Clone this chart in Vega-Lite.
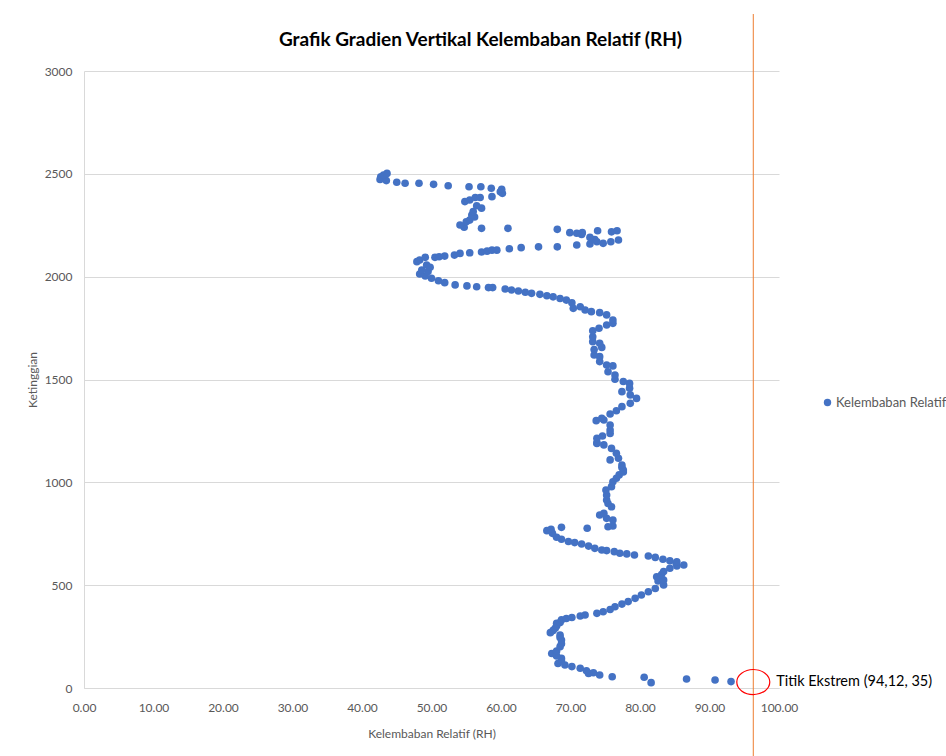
{
  "$schema": "https://vega.github.io/schema/vega-lite/v6.json",
  "autosize": {"type": "none"},
  "width": 695,
  "height": 617,
  "padding": {"left": 84, "top": 71, "right": 167, "bottom": 68},
  "background": "white",
  "title": {
    "text": "Grafik Gradien Vertikal Kelembaban Relatif (RH)",
    "font": "Lato",
    "fontSize": 19,
    "fontWeight": "bold",
    "color": "#000000",
    "anchor": "middle",
    "dx": 49,
    "offset": -36
  },
  "config": {
    "view": {"stroke": null},
    "font": "Lato",
    "axis": {
      "labelFont": "Lato",
      "titleFont": "Lato",
      "labelColor": "#595959",
      "titleColor": "#595959",
      "labelFontSize": 12,
      "titleFontSize": 12,
      "titleFontWeight": "normal",
      "gridColor": "#d9d9d9",
      "domainColor": "#d9d9d9",
      "ticks": false,
      "labelFlush": false
    }
  },
  "layer": [
    {
      "data": {"values": [
        {"rh": 93.1, "h": 31}, {"rh": 90.8, "h": 39}, {"rh": 86.7, "h": 44}, {"rh": 81.6, "h": 26}, {"rh": 80.6, "h": 52},
        {"rh": 76.0, "h": 55}, {"rh": 74.2, "h": 63}, {"rh": 73.3, "h": 74}, {"rh": 72.6, "h": 71}, {"rh": 72.3, "h": 84},
        {"rh": 71.4, "h": 96}, {"rh": 70.2, "h": 104}, {"rh": 69.2, "h": 112}, {"rh": 68.2, "h": 119}, {"rh": 68.7, "h": 132},
        {"rh": 68.7, "h": 144}, {"rh": 68.0, "h": 156}, {"rh": 67.3, "h": 168}, {"rh": 68.0, "h": 180}, {"rh": 68.5, "h": 201},
        {"rh": 68.7, "h": 215}, {"rh": 68.7, "h": 233}, {"rh": 68.5, "h": 246}, {"rh": 68.5, "h": 258}, {"rh": 67.1, "h": 269},
        {"rh": 67.5, "h": 280}, {"rh": 67.8, "h": 290}, {"rh": 68.0, "h": 302}, {"rh": 68.0, "h": 314}, {"rh": 68.5, "h": 318},
        {"rh": 68.7, "h": 331}, {"rh": 69.4, "h": 338}, {"rh": 70.2, "h": 343}, {"rh": 71.4, "h": 350}, {"rh": 72.1, "h": 355},
        {"rh": 73.8, "h": 363}, {"rh": 74.7, "h": 371}, {"rh": 75.7, "h": 382}, {"rh": 76.4, "h": 395}, {"rh": 77.4, "h": 408},
        {"rh": 78.3, "h": 420}, {"rh": 79.3, "h": 436}, {"rh": 80.2, "h": 452}, {"rh": 81.2, "h": 468}, {"rh": 82.2, "h": 484},
        {"rh": 83.4, "h": 501}, {"rh": 82.6, "h": 520}, {"rh": 83.4, "h": 525}, {"rh": 82.4, "h": 541}, {"rh": 83.1, "h": 552},
        {"rh": 83.4, "h": 566}, {"rh": 84.3, "h": 582}, {"rh": 85.3, "h": 593}, {"rh": 86.3, "h": 598}, {"rh": 85.2, "h": 606},
        {"rh": 85.3, "h": 614}, {"rh": 84.3, "h": 619}, {"rh": 83.3, "h": 626}, {"rh": 82.2, "h": 635}, {"rh": 81.2, "h": 642},
        {"rh": 79.2, "h": 647}, {"rh": 78.1, "h": 652}, {"rh": 77.1, "h": 655}, {"rh": 76.3, "h": 663}, {"rh": 75.2, "h": 668},
        {"rh": 74.5, "h": 671}, {"rh": 73.5, "h": 679}, {"rh": 72.6, "h": 690}, {"rh": 71.6, "h": 700}, {"rh": 70.6, "h": 707},
        {"rh": 69.7, "h": 712}, {"rh": 68.7, "h": 723}, {"rh": 68.0, "h": 733}, {"rh": 67.4, "h": 752}, {"rh": 66.6, "h": 765},
        {"rh": 67.2, "h": 772}, {"rh": 68.7, "h": 781}, {"rh": 72.4, "h": 777},
        {"rh": 76.1, "h": 788}, {"rh": 75.4, "h": 784}, {"rh": 76.1, "h": 817}, {"rh": 75.2, "h": 825}, {"rh": 74.2, "h": 841},
        {"rh": 74.8, "h": 850}, {"rh": 75.9, "h": 881}, {"rh": 75.4, "h": 897}, {"rh": 75.2, "h": 914}, {"rh": 75.2, "h": 938},
        {"rh": 75.1, "h": 963}, {"rh": 75.9, "h": 979}, {"rh": 76.1, "h": 1003}, {"rh": 76.6, "h": 1020}, {"rh": 77.0, "h": 1036},
        {"rh": 77.6, "h": 1050}, {"rh": 77.6, "h": 1060}, {"rh": 77.4, "h": 1072}, {"rh": 77.4, "h": 1084}, {"rh": 75.7, "h": 1109},
        {"rh": 76.9, "h": 1117}, {"rh": 76.6, "h": 1141}, {"rh": 75.9, "h": 1165}, {"rh": 74.8, "h": 1182}, {"rh": 73.8, "h": 1189},
        {"rh": 73.8, "h": 1193}, {"rh": 73.8, "h": 1214}, {"rh": 74.6, "h": 1225}, {"rh": 75.7, "h": 1238}, {"rh": 75.7, "h": 1254},
        {"rh": 75.7, "h": 1279}, {"rh": 74.8, "h": 1303}, {"rh": 73.7, "h": 1300}, {"rh": 74.5, "h": 1311}, {"rh": 75.7, "h": 1332},
        {"rh": 76.6, "h": 1348}, {"rh": 77.4, "h": 1368}, {"rh": 78.6, "h": 1384}, {"rh": 79.5, "h": 1408}, {"rh": 78.6, "h": 1425},
        {"rh": 77.4, "h": 1441}, {"rh": 78.5, "h": 1458}, {"rh": 78.5, "h": 1481}, {"rh": 77.6, "h": 1490}, {"rh": 76.4, "h": 1501},
        {"rh": 76.4, "h": 1522}, {"rh": 75.4, "h": 1538}, {"rh": 76.1, "h": 1566}, {"rh": 75.2, "h": 1570}, {"rh": 74.2, "h": 1587},
        {"rh": 74.2, "h": 1611}, {"rh": 73.4, "h": 1619}, {"rh": 73.4, "h": 1646}, {"rh": 74.5, "h": 1656}, {"rh": 74.2, "h": 1676},
        {"rh": 73.2, "h": 1684}, {"rh": 73.2, "h": 1708}, {"rh": 73.2, "h": 1737}, {"rh": 74.1, "h": 1749}, {"rh": 75.2, "h": 1765},
        {"rh": 76.1, "h": 1773}, {"rh": 76.1, "h": 1789}, {"rh": 75.2, "h": 1814}, {"rh": 74.2, "h": 1825}, {"rh": 73.0, "h": 1830},
        {"rh": 72.1, "h": 1838}, {"rh": 71.4, "h": 1854}, {"rh": 70.4, "h": 1846}, {"rh": 70.2, "h": 1873}, {"rh": 69.4, "h": 1886},
        {"rh": 68.5, "h": 1894}, {"rh": 67.5, "h": 1902}, {"rh": 66.6, "h": 1907}, {"rh": 65.6, "h": 1914}, {"rh": 64.4, "h": 1919},
        {"rh": 63.5, "h": 1924}, {"rh": 62.5, "h": 1930}, {"rh": 61.5, "h": 1935}, {"rh": 60.6, "h": 1940}, {"rh": 58.8, "h": 1947},
        {"rh": 58.2, "h": 1947}, {"rh": 56.5, "h": 1951}, {"rh": 55.1, "h": 1955}, {"rh": 53.4, "h": 1960}, {"rh": 51.9, "h": 1971},
        {"rh": 51.0, "h": 1980}, {"rh": 50.0, "h": 1992}, {"rh": 49.1, "h": 2003}, {"rh": 48.3, "h": 2013}, {"rh": 49.5, "h": 2025},
        {"rh": 48.6, "h": 2032}, {"rh": 49.8, "h": 2046}, {"rh": 49.3, "h": 2057}, {"rh": 47.9, "h": 2073}, {"rh": 48.3, "h": 2081},
        {"rh": 49.1, "h": 2094}, {"rh": 50.5, "h": 2094}, {"rh": 51.1, "h": 2097}, {"rh": 51.9, "h": 2100}, {"rh": 53.3, "h": 2105},
        {"rh": 54.1, "h": 2113}, {"rh": 55.5, "h": 2116}, {"rh": 57.2, "h": 2120}, {"rh": 58.0, "h": 2124}, {"rh": 58.7, "h": 2129},
        {"rh": 59.4, "h": 2129}, {"rh": 61.2, "h": 2136}, {"rh": 62.9, "h": 2141}, {"rh": 65.4, "h": 2145}, {"rh": 68.1, "h": 2145},
        {"rh": 70.9, "h": 2154}, {"rh": 72.8, "h": 2159}, {"rh": 73.8, "h": 2170}, {"rh": 74.7, "h": 2162}, {"rh": 75.8, "h": 2170},
        {"rh": 76.9, "h": 2178}, {"rh": 73.5, "h": 2180}, {"rh": 72.8, "h": 2191}, {"rh": 71.6, "h": 2205}, {"rh": 71.7, "h": 2214},
        {"rh": 70.9, "h": 2211}, {"rh": 69.9, "h": 2214}, {"rh": 68.1, "h": 2230}, {"rh": 73.9, "h": 2223}, {"rh": 75.9, "h": 2218},
        {"rh": 76.7, "h": 2223}, {"rh": 61.0, "h": 2235}, {"rh": 57.2, "h": 2235}, {"rh": 54.7, "h": 2240}, {"rh": 54.1, "h": 2251},
        {"rh": 55.0, "h": 2267}, {"rh": 55.5, "h": 2275}, {"rh": 56.2, "h": 2290}, {"rh": 55.8, "h": 2300}, {"rh": 56.0, "h": 2317},
        {"rh": 57.2, "h": 2333}, {"rh": 56.5, "h": 2345}, {"rh": 55.5, "h": 2373}, {"rh": 54.8, "h": 2365}, {"rh": 56.3, "h": 2385},
        {"rh": 57.0, "h": 2385}, {"rh": 58.7, "h": 2389}, {"rh": 59.9, "h": 2413}, {"rh": 60.2, "h": 2405}, {"rh": 60.1, "h": 2425},
        {"rh": 58.6, "h": 2430}, {"rh": 57.1, "h": 2437}, {"rh": 55.4, "h": 2437}, {"rh": 52.4, "h": 2442}, {"rh": 50.3, "h": 2449},
        {"rh": 48.2, "h": 2454}, {"rh": 46.2, "h": 2454}, {"rh": 45.0, "h": 2459}, {"rh": 43.5, "h": 2467}, {"rh": 42.6, "h": 2473},
        {"rh": 42.7, "h": 2486}, {"rh": 43.1, "h": 2494}, {"rh": 43.6, "h": 2502}
      ]},
      "transform": [{"calculate": "'Kelembaban Relatif'", "as": "series"}],
      "mark": {"type": "point", "filled": true, "opacity": 1, "size": 58},
      "encoding": {
        "x": {
          "field": "rh", "type": "quantitative",
          "scale": {"domain": [0, 100], "nice": false},
          "axis": {"values": [0, 10, 20, 30, 40, 50, 60, 70, 80, 90, 100], "format": ".2f", "grid": false, "labelPadding": 14, "title": "Kelembaban Relatif (RH)", "titlePadding": 15}
        },
        "y": {
          "field": "h", "type": "quantitative",
          "scale": {"domain": [0, 3000], "nice": false},
          "axis": {"values": [0, 500, 1000, 1500, 2000, 2500, 3000], "format": "d", "grid": true, "labelPadding": 12, "title": "Ketinggian", "titlePadding": 5}
        },
        "color": {
          "field": "series", "type": "nominal",
          "scale": {"range": ["#4472C4"]},
          "legend": {"title": null, "orient": "none", "legendX": 737, "legendY": 325, "padding": 0, "labelFont": "Lato", "labelFontSize": 13, "labelColor": "#595959", "symbolSize": 55, "symbolType": "circle", "labelOffset": 2, "labelLimit": 300}
        }
      }
    },
    {
      "data": {"values": [{"xv": 96.3, "ytop": 3277, "ybot": -340}]},
      "mark": {"type": "rule", "color": "#ED7D31", "strokeWidth": 1, "clip": false},
      "encoding": {
        "x": {"field": "xv", "type": "quantitative"},
        "y": {"field": "ytop", "type": "quantitative"},
        "y2": {"field": "ybot"}
      }
    },
    {
      "data": {"values": [{"xv": 96.3, "yv": 29}]},
      "mark": {"type": "point", "shape": "M -1 0 A 1 0.76 0 1 0 1 0 A 1 0.76 0 1 0 -1 0 Z", "filled": false, "stroke": "#FF0000", "strokeWidth": 1.2, "size": 1089, "opacity": 1, "clip": false},
      "encoding": {
        "x": {"field": "xv", "type": "quantitative"},
        "y": {"field": "yv", "type": "quantitative"}
      }
    },
    {
      "data": {"values": [{"xv": 99.6, "yv": 29, "label": "Titik Ekstrem (94,12, 35)"}]},
      "mark": {"type": "text", "align": "left", "baseline": "middle", "font": "Lato", "fontSize": 14.5, "color": "#000000", "clip": false},
      "encoding": {
        "x": {"field": "xv", "type": "quantitative"},
        "y": {"field": "yv", "type": "quantitative"},
        "text": {"field": "label"}
      }
    }
  ]
}
